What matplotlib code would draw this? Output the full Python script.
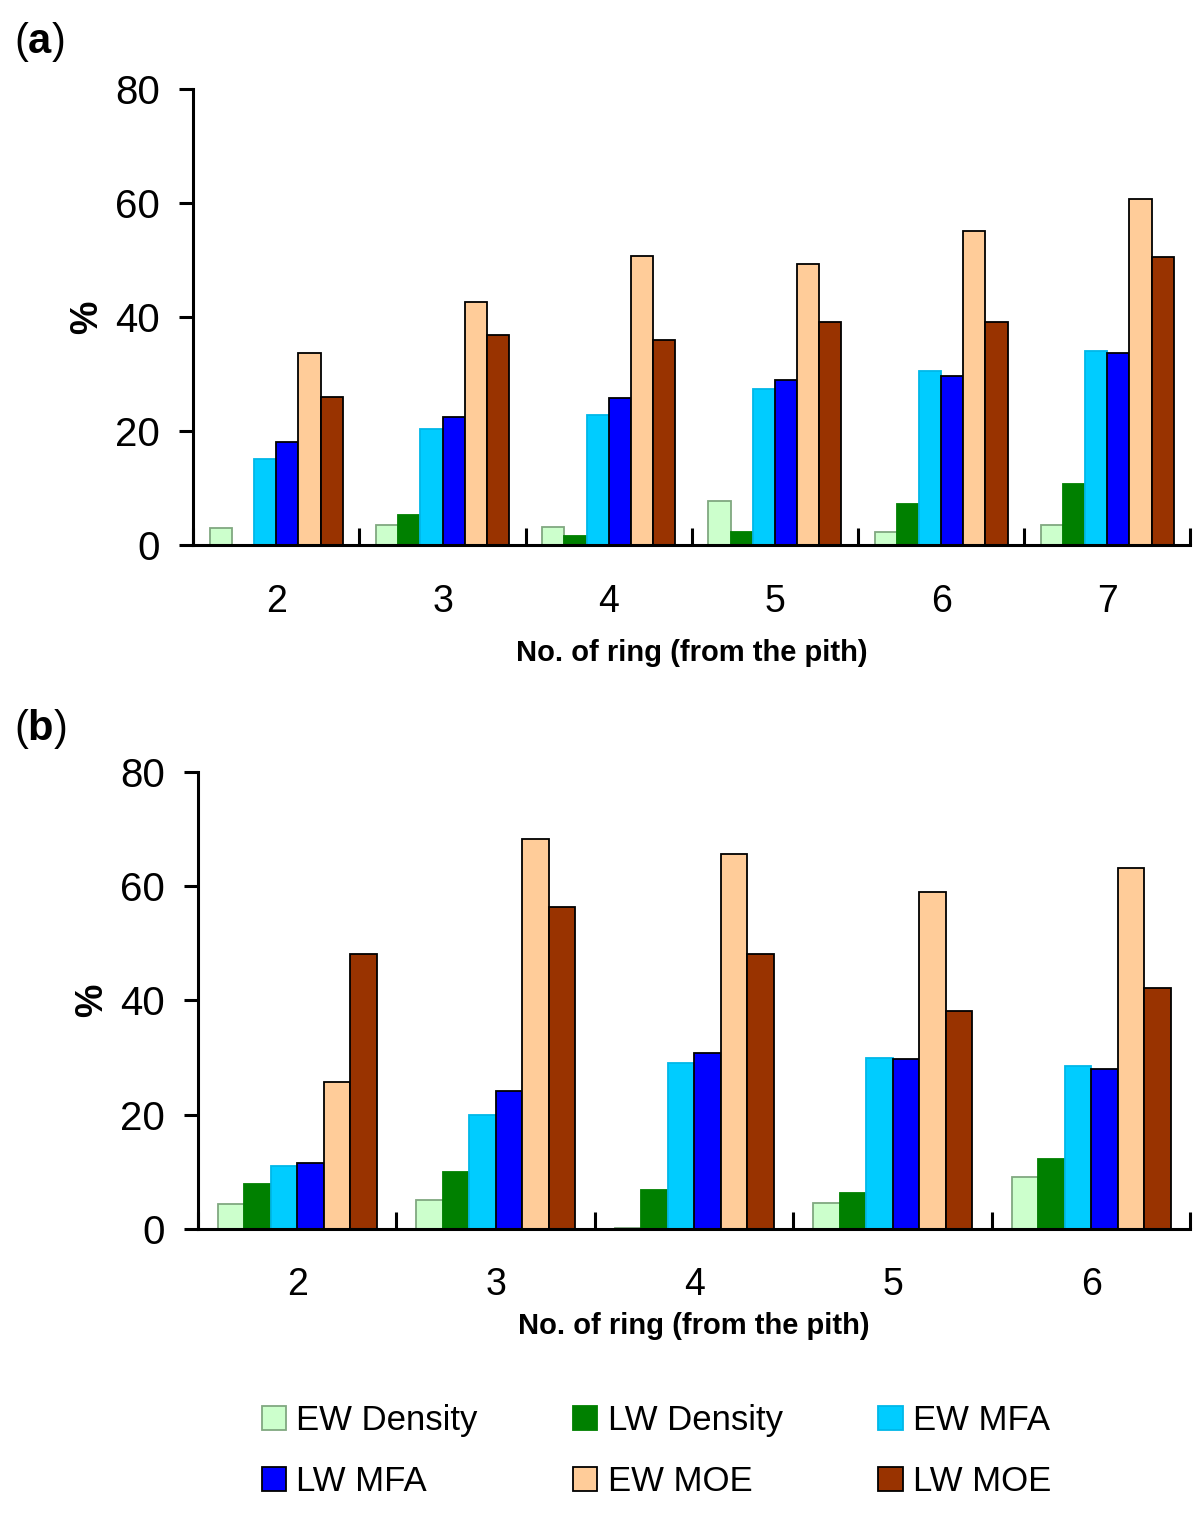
import matplotlib.pyplot as plt
import numpy as np

plt.rcParams['font.family'] = ['Liberation Sans', 'DejaVu Sans']
plt.rcParams['mathtext.fontset'] = 'custom'
plt.rcParams['mathtext.rm'] = 'Liberation Sans'
plt.rcParams['mathtext.bf'] = 'Liberation Sans:bold'

series = ['EW Density', 'LW Density', 'EW MFA', 'LW MFA', 'EW MOE', 'LW MOE']
colors = ['#ccffcc', '#008000', '#00ccff', '#0000ff', '#ffcc99', '#993300']
edges = ['#80a880', '#008000', '#00b8e8', 'black', 'black', 'black']

rings_a = ['2', '3', '4', '5', '6', '7']
ew_dens_a = [2.9, 3.5, 3.2, 7.7, 2.3, 3.5]
lw_dens_a = [0.0, 5.2, 1.5, 2.3, 7.2, 10.7]
ew_mfa_a = [15.1, 20.4, 22.8, 27.4, 30.5, 34.0]
lw_mfa_a = [18.1, 22.4, 25.8, 29.0, 29.6, 33.7]
ew_moe_a = [33.7, 42.6, 50.7, 49.3, 55.1, 60.7]
lw_moe_a = [26.0, 36.8, 36.0, 39.1, 39.1, 50.5]

rings_b = ['2', '3', '4', '5', '6']
ew_dens_b = [4.4, 5.0, 0.2, 4.6, 9.1]
lw_dens_b = [7.8, 10.0, 6.8, 6.3, 12.3]
ew_mfa_b = [11.1, 20.0, 29.1, 29.9, 28.5]
lw_mfa_b = [11.5, 24.1, 30.8, 29.7, 28.0]
ew_moe_b = [25.7, 68.3, 65.7, 59.0, 63.2]
lw_moe_b = [48.1, 56.4, 48.1, 38.2, 42.2]

fig = plt.figure(figsize=(12, 15.16), dpi=100)
ax_a = fig.add_axes([0.161, 0.6405, 0.831, 0.3008])
ax_b = fig.add_axes([0.165, 0.1893, 0.827, 0.3015])


def draw(ax, rings, data, tick_pad):
    n = len(rings)
    x = np.arange(n)
    w = 0.8 / 6
    handles = []
    for i, vals in enumerate(data):
        h = ax.bar(x - 0.4 + w * (i + 0.5), vals, w, color=colors[i],
                   edgecolor=edges[i], linewidth=1.3, label=series[i])
        handles.append(h)
    ax.set_xlim(-0.5, n - 0.5)
    ax.set_ylim(0, 80)
    ax.set_yticks([0, 20, 40, 60, 80])
    ax.tick_params(axis='y', labelsize=29, width=2.2, length=10, direction='out', pad=14)
    ax.set_xticks(np.arange(n + 1) - 0.5)
    ax.set_xticklabels([])
    ax.tick_params(axis='x', which='major', direction='in', width=2.2, length=12)
    ax.set_xticks(x, minor=True)
    ax.set_xticklabels(rings, minor=True)
    ax.tick_params(axis='x', which='minor', length=0, labelsize=27, pad=tick_pad)
    for s in ['top', 'right']:
        ax.spines[s].set_visible(False)
    for s in ['left', 'bottom']:
        ax.spines[s].set_linewidth(2.2)
    ax.set_ylabel('%', fontsize=27, fontweight='bold', labelpad=7)
    return handles


handles = draw(ax_a, rings_a,
               [ew_dens_a, lw_dens_a, ew_mfa_a, lw_mfa_a, ew_moe_a, lw_moe_a], 28)
ax_a.set_xlabel('No. of ring (from the pith)', fontsize=21, fontweight='bold', labelpad=14)

draw(ax_b, rings_b,
     [ew_dens_b, lw_dens_b, ew_mfa_b, lw_mfa_b, ew_moe_b, lw_moe_b], 27)
ax_b.set_xlabel('No. of ring (from the pith)', fontsize=21, fontweight='bold', labelpad=7)

fig.text(0.012, 0.972, r'($\mathbf{a}$)', fontsize=30, va='center')
fig.text(0.012, 0.519, r'($\mathbf{b}$)', fontsize=30, va='center')

# legend fills column-wise, so reorder to get row-wise order
order = [0, 3, 1, 4, 2, 5]
fig.legend([handles[i] for i in order], [series[i] for i in order],
           loc='center', bbox_to_anchor=(0.547, 0.0429), ncol=3,
           frameon=False, fontsize=25, handlelength=0.7, handleheight=0.7,
           handletextpad=0.3, columnspacing=2.75, labelspacing=0.8)

fig.savefig('out.png', dpi=100)
